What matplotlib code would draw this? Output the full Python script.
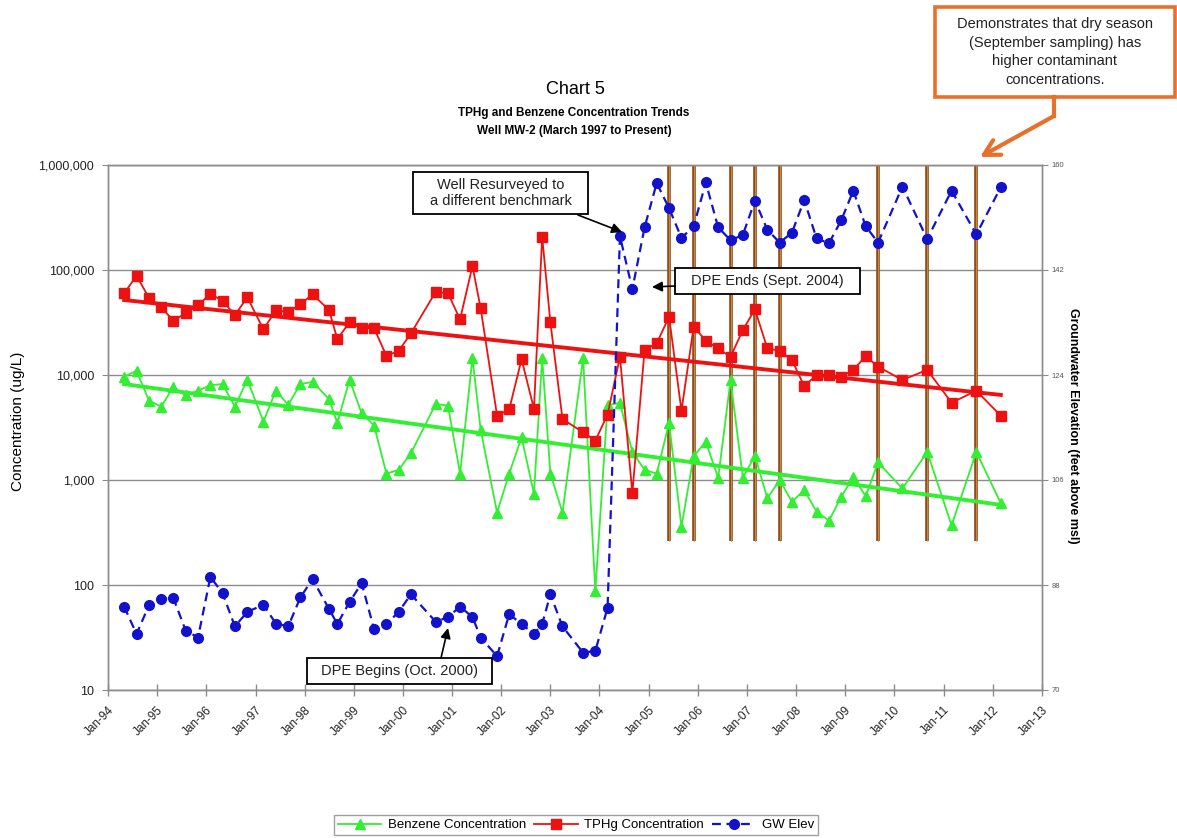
import matplotlib
matplotlib.use('Agg')
import pandas as pd
import matplotlib.pyplot as plt
import matplotlib.dates as mdates
from matplotlib.lines import Line2D
from matplotlib.patches import Rectangle, FancyArrowPatch
from matplotlib.ticker import FixedLocator, FuncFormatter, NullLocator

plt.rcParams['font.family'] = ['Liberation Sans', 'DejaVu Sans']

# quarterly sampling events, well MW-2
sample_dates = [
    '1994-05', '1994-08', '1994-11', '1995-02', '1995-05', '1995-08', '1995-11',
    '1996-02', '1996-05', '1996-08', '1996-11', '1997-03', '1997-06', '1997-09',
    '1997-12', '1998-03', '1998-07', '1998-09', '1998-12', '1999-03', '1999-06',
    '1999-09', '1999-12', '2000-03', '2000-09', '2000-12', '2001-03', '2001-06',
    '2001-08', '2001-12', '2002-03', '2002-06', '2002-09', '2002-11', '2003-01',
    '2003-04', '2003-09', '2003-12', '2004-03', '2004-06', '2004-09', '2004-12',
    '2005-03', '2005-06', '2005-09', '2005-12', '2006-03', '2006-06', '2006-09',
    '2006-12', '2007-03', '2007-06', '2007-09', '2007-12', '2008-03', '2008-06',
    '2008-09', '2008-12', '2009-03', '2009-06', '2009-09', '2010-03', '2010-09',
    '2011-03', '2011-09', '2012-03',
]

benzene = [
    9600, 11000, 5700, 5000, 7700, 6400, 7100, 8000, 8200, 5000,
    9000, 3600, 7100, 5200, 8200, 8600, 5900, 3500, 9000, 4300,
    3300, 1150, 1250, 1800, 5300, 5100, 1150, 14500, 3000, 490,
    1150, 2550, 740, 14500, 1150, 490, 14500, 88, 5200, 5400,
    1850, 1250, 1150, 3500, 360, 1700, 2300, 1050, 9000, 1050,
    1700, 670, 1000, 620, 800, 500, 410, 690, 1070, 700,
    1470, 830, 1850, 370, 1850, 600,
]

tphg = [
    60000, 88000, 54500, 44000, 33000, 38700, 46400, 59000, 51000, 37200,
    55000, 27200, 41300, 39800, 47100, 58700, 41600, 22000, 31800, 27900,
    27900, 15200, 17000, 24900, 62000, 60000, 33900, 109000, 43200, 4100,
    4700, 14100, 4750, 207000, 31800, 3800, 2850, 2370, 4200, 14900,
    750, 17300, 20000, 35900, 4570, 28900, 21200, 17900, 14900, 26800,
    42200, 17900, 17000, 13900, 7850, 10000, 10000, 9640, 11200, 15100,
    12000, 8960, 11200, 5450, 7080, 4090,
]

gw_elev = [
    84.3, 79.6, 84.5, 85.6, 85.8, 80.2, 79.0, 89.4, 86.6, 80.9,
    83.4, 84.6, 81.4, 80.9, 85.9, 89.0, 83.9, 81.3, 85.1, 88.3,
    80.4, 81.3, 83.4, 86.4, 81.7, 82.5, 84.3, 82.5, 79.0, 75.8,
    83.0, 81.3, 79.6, 81.3, 86.4, 80.9, 76.4, 76.7, 84.1, 147.8,
    138.7, 149.3, 156.9, 152.6, 147.5, 149.5, 157.0, 149.3, 147.1, 148.0,
    153.9, 148.9, 146.7, 148.4, 154.0, 147.4, 146.6, 150.5, 155.6, 149.5,
    146.7, 156.3, 147.3, 155.6, 148.1, 156.2,
]

# exponential trend lines (end points)
trend_dates = ['1994-05', '2012-03']
benzene_trend = [8200, 580]
tphg_trend = [51800, 6460]

# dry season sampling events marked with vertical bars
dry_season_dates = ['2005-06', '2005-12', '2006-09', '2007-03', '2007-09',
                    '2009-09', '2010-09', '2011-09']
dry_bar_range = [262, 1000000]

conc_ticks = [10, 100, 1000, 10000, 100000, 1000000]
elev_ticks = [70, 88, 106, 124, 142, 160]
x_range = ['1994-01', '2013-01']

GREEN = '#33ee33'
RED = '#ee1111'
BLUE = '#1212cc'
ORANGE = '#e8702a'
GRID = '#8c8c8c'

W, H = 1177, 838


def fpx(x, y):
    # pixel position -> figure fraction
    return (x / W, 1 - y / H)


dates = pd.to_datetime(sample_dates)
tdates = pd.to_datetime(trend_dates)

fig = plt.figure(figsize=(W / 100, H / 100), dpi=100)
ax = fig.add_axes([108 / W, 148 / H, 934 / W, 525 / H])
ax2 = ax.twinx()

# left axis: concentrations
ax.set_yscale('log')
ax.set_ylim(conc_ticks[0], conc_ticks[-1])
ax.yaxis.set_major_locator(FixedLocator(conc_ticks))
ax.yaxis.set_minor_locator(NullLocator())
ax.yaxis.set_major_formatter(FuncFormatter(lambda v, p: f'{int(round(v)):,}'))
ax.grid(axis='y', color=GRID, lw=1.0, zorder=0)
ax.set_axisbelow(True)

ax.vlines(pd.to_datetime(dry_season_dates), dry_bar_range[0], dry_bar_range[1],
          colors='#8a4716', lw=2.6, zorder=1)
ax.vlines(pd.to_datetime(dry_season_dates), dry_bar_range[0], dry_bar_range[1],
          colors='#c98440', lw=0.9, zorder=1.1)

ax.plot(dates, benzene, color=GREEN, lw=1.3, marker='^', ms=6.5, zorder=3)
ax.plot(dates, tphg, color=RED, lw=1.3, marker='s', ms=6.5, zorder=3)
ax.plot(tdates, benzene_trend, color=GREEN, lw=2.8, zorder=2.5)
ax.plot(tdates, tphg_trend, color=RED, lw=2.8, zorder=2.5)

# right axis: groundwater elevation
ax2.plot(dates, gw_elev, color=BLUE, lw=1.6, ls=(0, (4, 2.5)),
         marker='o', ms=7, zorder=3)
ax2.set_ylim(elev_ticks[0], elev_ticks[-1])
ax2.yaxis.set_major_locator(FixedLocator(elev_ticks))

xr = pd.to_datetime(x_range)
ax.set_xlim(xr[0], xr[1])
ax.xaxis.set_major_locator(mdates.YearLocator(1, month=1, day=1))
ax.xaxis.set_major_formatter(mdates.DateFormatter('%b-%y'))
ax.tick_params(axis='x', direction='inout', length=8, width=1, color=GRID,
               labelsize=8.5, pad=6, labelcolor='#222222')
for lbl in ax.get_xticklabels():
    lbl.set_rotation(45)
    lbl.set_ha('right')
    lbl.set_rotation_mode('anchor')

ax.tick_params(axis='y', direction='out', length=4, color=GRID, labelsize=9,
               pad=6, labelcolor='#222222')
ax2.tick_params(axis='y', direction='out', length=4, color=GRID, labelsize=5.5,
                labelcolor='#555555', pad=3)

for a in (ax, ax2):
    for side in ('left', 'right', 'bottom', 'top'):
        a.spines[side].set_color(GRID)
        a.spines[side].set_linewidth(1.0)
    a.patch.set_visible(False)

# titles and axis labels
fig.text(*fpx(575, 90), 'Chart 5', fontsize=13, ha='center', va='center')
fig.text(*fpx(574, 113), 'TPHg and Benzene Concentration Trends', fontsize=8.5,
         fontweight='bold', ha='center', va='center')
fig.text(*fpx(574, 131), 'Well MW-2 (March 1997 to Present)', fontsize=8.5,
         fontweight='bold', ha='center', va='center')
fig.text(*fpx(18, 421), 'Concentration (ug/L)', fontsize=11, rotation=90,
         ha='center', va='center')
fig.text(*fpx(1073, 426), 'Groundwater Elevation (feet above msl)', fontsize=9,
         fontweight='bold', rotation=270, ha='center', va='center')


def callout(x0, y0, x1, y1, text, ec='black', lw=1.3, fs=10.5, ls=1.25):
    x0f, y1f = fpx(x0, y1)
    fig.add_artist(Rectangle((x0f, y1f), (x1 - x0) / W, (y1 - y0) / H,
                             transform=fig.transFigure, fc='white', ec=ec,
                             lw=lw, zorder=5))
    fig.text(*fpx((x0 + x1) / 2, (y0 + y1) / 2), text, fontsize=fs,
             ha='center', va='center', linespacing=ls, color='#222222',
             zorder=6)


def arrow(xa, ya, xb, yb, color='black', lw=1.2,
          style='-|>,head_length=0.6,head_width=0.3'):
    fig.add_artist(FancyArrowPatch(
        fpx(xa, ya), fpx(xb, yb), transform=fig.transFigure,
        arrowstyle=style, mutation_scale=10, color=color, lw=lw, zorder=6,
        shrinkA=0, shrinkB=0))


callout(413, 172, 588, 214, 'Well Resurveyed to\na different benchmark')
arrow(578, 215, 622, 232)

callout(675, 268, 860, 294, 'DPE Ends (Sept. 2004)')
arrow(675, 286, 652, 287)

callout(307, 658, 492, 684, 'DPE Begins (Oct. 2000)')
arrow(441, 658, 448, 628)

callout(935, 7, 1175, 97,
        'Demonstrates that dry season\n(September sampling) has\nhigher contaminant\nconcentrations.',
        ec=ORANGE, lw=2.6, fs=10.5, ls=1.45)
fig.add_artist(Line2D([1054 / W, 1054 / W], [1 - 97 / H, 1 - 116 / H],
                      transform=fig.transFigure, color=ORANGE, lw=3, zorder=6))
arrow(1054, 116, 980, 157, color=ORANGE, lw=3,
      style='->,head_length=1.1,head_width=0.6')

# legend
handles = [
    Line2D([], [], color=GREEN, lw=1.3, marker='^', ms=6.5),
    Line2D([], [], color=RED, lw=1.3, marker='s', ms=6.5),
    Line2D([], [], color=BLUE, lw=1.6, ls=(0, (4, 2.5)), marker='o', ms=7),
]
leg = fig.legend(handles, ['Benzene Concentration', 'TPHg Concentration', 'GW Elev'],
                 loc='center', bbox_to_anchor=fpx(576, 825), ncol=3, fontsize=9.5,
                 frameon=True, fancybox=False, edgecolor='#888888',
                 handlelength=3.3, columnspacing=0.6, handletextpad=0.5,
                 borderpad=0.3)
leg.get_frame().set_linewidth(1.0)

fig.savefig('out.png', dpi=100)
